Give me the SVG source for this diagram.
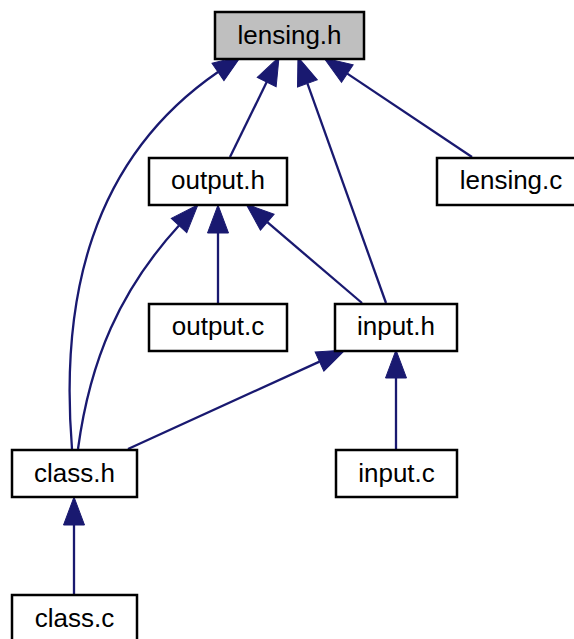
<svg xmlns="http://www.w3.org/2000/svg" width="574" height="639" viewBox="0 0 574 639">
<style>
.box{fill:#ffffff;stroke:#000000;stroke-width:2.5}
.root{fill:#bfbfbf}
.lbl{font-family:"Liberation Sans",Arial,Helvetica,sans-serif;font-size:26px;fill:#000000;text-anchor:middle}
.edge{fill:none;stroke:#191970;stroke-width:2.3}
</style>
<defs>
<marker id="ah" markerUnits="userSpaceOnUse" markerWidth="30" markerHeight="24" refX="0" refY="10.5" orient="auto" overflow="visible">
<path d="M0,0 L28,10.5 L0,21 z" fill="#191970" stroke="#191970" stroke-width="1"/>
</marker>
</defs>
<rect width="574" height="639" fill="#ffffff"/>
<g id="connectors">
<path class="edge" d="M72,449 C60,300 90,160 218,72" marker-end="url(#ah)"/>
<path class="edge" d="M230,157 L266.7,82.1" marker-end="url(#ah)"/>
<path class="edge" d="M386,303 L307.4,83.4" marker-end="url(#ah)"/>
<path class="edge" d="M472,157 L347.3,73.6" marker-end="url(#ah)"/>
<path class="edge" d="M78,449 C90,360 120,290 179,225.5" marker-end="url(#ah)"/>
<path class="edge" d="M218,303 L218,233" marker-end="url(#ah)"/>
<path class="edge" d="M362,303 L267.3,222.2" marker-end="url(#ah)"/>
<path class="edge" d="M128,449 L319.5,361.6" marker-end="url(#ah)"/>
<path class="edge" d="M396,449 L396,378" marker-end="url(#ah)"/>
<path class="edge" d="M74,595 L74,525" marker-end="url(#ah)"/>
</g>
<g id="lensing_h"><rect class="box root" x="215" y="12" width="149" height="47"/><text class="lbl" x="289.5" y="44">lensing.h</text></g>
<g id="output_h"><rect class="box" x="149" y="158" width="138" height="47"/><text class="lbl" x="218" y="189">output.h</text></g>
<g id="lensing_c"><rect class="box" x="437" y="158" width="150" height="47"/><text class="lbl" x="511" y="189">lensing.c</text></g>
<g id="output_c"><rect class="box" x="149" y="304" width="138" height="47"/><text class="lbl" x="218" y="335">output.c</text></g>
<g id="input_h"><rect class="box" x="335" y="304" width="122" height="47"/><text class="lbl" x="396" y="335">input.h</text></g>
<g id="class_h"><rect class="box" x="12" y="450" width="125" height="47"/><text class="lbl" x="74.5" y="482">class.h</text></g>
<g id="input_c"><rect class="box" x="336" y="450" width="121" height="47"/><text class="lbl" x="396.5" y="482">input.c</text></g>
<g id="class_c"><rect class="box" x="12" y="595" width="125" height="47"/><text class="lbl" x="74.5" y="627">class.c</text></g>
</svg>
